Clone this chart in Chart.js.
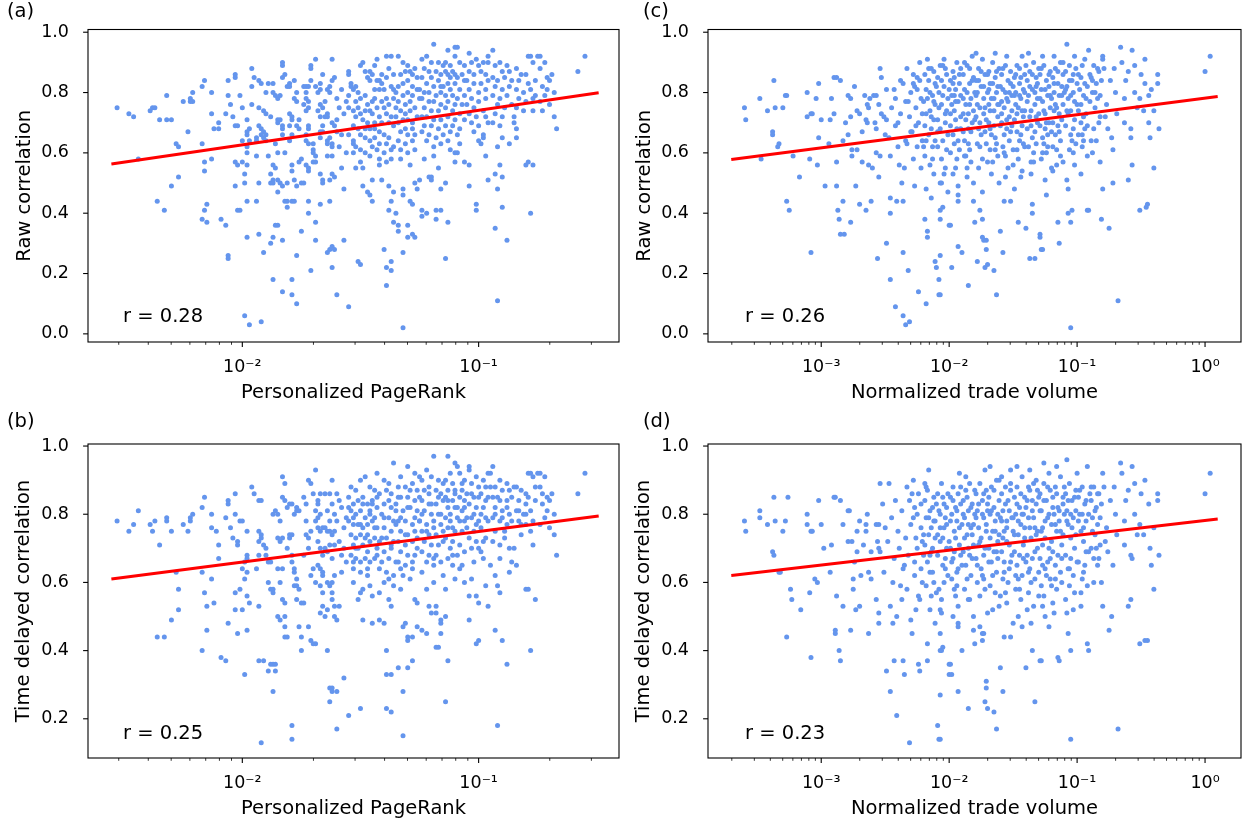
<!DOCTYPE html>
<html>
<head>
<meta charset="utf-8">
<script src="https://cdn.jsdelivr.net/npm/chart.js@4.4.1/dist/chart.umd.min.js"></script>
<style>
  html, body { margin: 0; padding: 0; background: #fff; }
  #wrap { position: relative; width: 1248px; height: 824px; }
  .panel { position: absolute; width: 624px; height: 412px; }
</style>
</head>
<body>
<div id="wrap">
  <div class="panel" style="left:0;top:0"><canvas id="chartA" width="624" height="412"></canvas></div>
  <div class="panel" style="left:624px;top:0"><canvas id="chartC" width="624" height="412"></canvas></div>
  <div class="panel" style="left:0;top:412px"><canvas id="chartB" width="624" height="412"></canvas></div>
  <div class="panel" style="left:624px;top:412px"><canvas id="chartD" width="624" height="412"></canvas></div>
</div>
<script>
// each point: [log10(x), correlation]
const pagerankRaw = [
  [-2.53,.75],[-2.48,.73],[-2.46,.72],[-2.44,.58],[-2.39,.74],[-2.38,.75],[-2.37,.75],[-2.36,.44],[-2.35,.71],
  [-2.33,.41],[-2.32,.79],[-2.32,.71],[-2.30,.71],[-2.30,.49],[-2.28,.63],[-2.27,.62],[-2.27,.52],
  [-2.25,.77],[-2.23,.67],[-2.22,.78],[-2.21,.77],[-2.22,.77],[-2.21,.80],[-2.17,.63],[-2.17,.82],[-2.17,.38],
  [-2.16,.84],[-2.16,.57],[-2.16,.54],[-2.16,.41],[-2.15,.43],[-2.15,.37],[-2.13,.73],[-2.13,.80],[-2.13,.58],[-2.12,.68],[-2.10,.70],[-2.10,.68],[-2.09,.38],[-2.07,.36],[-2.07,.73],
  [-2.06,.79],[-2.06,.84],[-2.06,.26],[-2.06,.25],[-2.05,.76],[-2.04,.72],[-2.03,.85],[-2.03,.86],[-2.03,.57],[-2.02,.56],[-2.03,.49],[-2.03,.69],[-2.02,.69],[-2.02,.41],[-2.01,.41],[-2.01,.79],[-2.00,.75],[-2.00,.64],[-1.98,.66],[-2.00,.57],[-1.98,.56],[-1.98,.60],[-1.99,.50],[-1.99,.53],[-1.99,.06],[-1.97,.03],[-1.98,.32],[-1.98,.62],[-1.97,.64],[-1.97,.68],[-1.98,.71],[-1.98,.67],[-1.98,.44],
  [-1.92,.04],[-1.93,.33],[-1.94,.44],[-1.96,.76],[-1.96,.88],[-1.95,.85],[-1.93,.84],[-1.96,.82],[-1.94,.65],[-1.94,.64],[-1.94,.59],[-1.93,.50],[-1.93,.75],[-1.93,.69],[-1.91,.27],[-1.91,.74],[-1.90,.73],[-1.92,.83],[-1.90,.80],[-1.92,.68],[-1.91,.67],[-1.90,.66],[-1.91,.65],[-1.90,.64],[-1.92,.66],[-1.89,.59],[-1.88,.72],[-1.89,.83],[-1.87,.83],[-1.88,.53],[-1.88,.50],[-1.87,.51],[-1.87,.50],[-1.87,.56],[-1.88,.30],[-1.87,.32],[-1.87,.18],[-1.87,.80],
  [-1.86,.55],[-1.86,.36],[-1.85,.36],[-1.86,.79],[-1.85,.78],[-1.84,.79],[-1.85,.70],[-1.85,.71],[-1.84,.71],[-1.86,.63],[-1.85,.60],[-1.85,.47],[-1.85,.51],[-1.84,.50],[-1.83,.90],[-1.83,.89],[-1.83,.14],[-1.83,.85],[-1.82,.86],[-1.83,.68],[-1.83,.69],[-1.83,.66],[-1.83,.49],[-1.81,.50],[-1.83,.31],[-1.82,.60],[-1.81,.44],[-1.82,.44],[-1.81,.42],[-1.81,.82],[-1.80,.82],[-1.80,.83],[-1.78,.84],[-1.80,.73],[-1.79,.71],[-1.79,.72],[-1.80,.69],[-1.80,.64],[-1.79,.66],[-1.79,.56],[-1.78,.51],[-1.79,.54],[-1.79,.44],[-1.78,.44],[-1.79,.18],[-1.79,.13],[-1.77,.10],[-1.78,.78],[-1.77,.80],
  [-1.77,.77],[-1.77,.69],[-1.76,.71],[-1.76,.68],[-1.77,.49],[-1.75,.50],[-1.74,.50],[-1.76,.57],[-1.75,.58],[-1.77,.26],[-1.75,.34],[-1.74,.82],[-1.73,.80],[-1.73,.82],[-1.72,.82],[-1.74,.76],[-1.73,.78],[-1.72,.77],[-1.73,.64],[-1.72,.63],[-1.73,.66],[-1.73,.74],[-1.72,.75],[-1.72,.54],[-1.72,.55],[-1.73,.56],[-1.72,.69],[-1.72,.68],[-1.72,.44],[-1.72,.40],[-1.71,.89],[-1.71,.88],[-1.71,.84],[-1.71,.21],[-1.70,.63],[-1.70,.61],[-1.70,.60],[-1.69,.59],[-1.70,.57],[-1.69,.57],[-1.69,.37],[-1.69,.31],[-1.69,.91],[-1.69,.82],[-1.68,.80],[-1.67,.81],[-1.67,.83],[-1.66,.86],[-1.68,.74],[-1.67,.72],[-1.67,.76],[-1.66,.75],[-1.67,.67],[-1.67,.65],[-1.66,.67],[-1.66,.69],[-1.67,.53],[-1.66,.51],[-1.66,.50],[-1.67,.43],
  [-1.65,.77],[-1.65,.72],[-1.64,.73],[-1.64,.72],[-1.64,.81],[-1.63,.82],[-1.63,.80],[-1.62,.84],[-1.62,.91],[-1.61,.85],[-1.64,.63],[-1.64,.64],[-1.63,.65],[-1.62,.62],[-1.62,.63],[-1.64,.27],[-1.63,.28],[-1.62,.22],[-1.62,.29],[-1.61,.28],[-1.64,.59],[-1.62,.59],[-1.62,.53],[-1.61,.52],[-1.63,.51],[-1.63,.44],[-1.60,.13],[-1.62,.70],[-1.61,.69],[-1.60,.67],[-1.60,.71],[-1.60,.78],[-1.59,.75],[-1.58,.81],[-1.59,.62],[-1.58,.66],[-1.57,.31],[-1.58,.55],[-1.57,.48],[-1.55,.09],[-1.56,.77],[-1.56,.60],[-1.57,.73],
  [-1.55,.87],[-1.55,.86],[-1.54,.83],[-1.54,.82],[-1.53,.81],[-1.52,.82],[-1.51,.80],[-1.50,.89],[-1.49,.90],[-1.48,.87],[-1.47,.85],[-1.46,.84],[-1.46,.87],[-1.55,.79],[-1.52,.77],[-1.50,.78],[-1.48,.79],[-1.47,.76],[-1.45,.77],[-1.55,.75],[-1.53,.74],[-1.51,.75],[-1.50,.73],[-1.48,.74],[-1.46,.74],[-1.52,.72],[-1.49,.71],[-1.47,.70],[-1.53,.69],[-1.51,.68],[-1.48,.68],[-1.46,.68],[-1.55,.66],[-1.53,.64],[-1.50,.66],[-1.48,.65],[-1.46,.64],[-1.53,.63],[-1.50,.61],[-1.48,.60],[-1.46,.59],[-1.52,.55],[-1.45,.51],[-1.49,.49],[-1.47,.47],[-1.53,.60],[-1.52,.62],[-1.50,.57],[-1.49,.55],[-1.51,.24],[-1.50,.23],[-1.45,.62],[-1.45,.44],[-1.46,.46],
  [-1.43,.91],[-1.44,.89],[-1.45,.86],[-1.43,.84],[-1.42,.84],[-1.41,.86],[-1.39,.92],[-1.37,.92],[-1.38,.88],[-1.36,.86],[-1.39,.85],[-1.41,.83],[-1.44,.81],[-1.42,.81],[-1.40,.81],[-1.37,.82],[-1.36,.81],[-1.44,.78],[-1.41,.77],[-1.39,.78],[-1.36,.78],[-1.43,.75],[-1.40,.75],[-1.38,.76],[-1.35,.75],[-1.45,.73],[-1.42,.72],[-1.39,.73],[-1.37,.72],[-1.44,.70],[-1.41,.70],[-1.38,.70],[-1.36,.69],[-1.44,.68],[-1.42,.67],[-1.40,.66],[-1.38,.65],[-1.44,.65],[-1.42,.63],[-1.39,.63],[-1.36,.62],[-1.43,.61],[-1.40,.60],[-1.37,.61],[-1.42,.58],[-1.39,.57],[-1.37,.58],[-1.42,.56],[-1.41,.51],[-1.40,.28],[-1.39,.16],[-1.39,.22],[-1.37,.21],[-1.37,.24],[-1.38,.49],[-1.37,.44],[-1.36,.47],[-1.38,.41],[-1.35,.40],[-1.36,.37],
  [-1.34,.92],[-1.32,.90],[-1.30,.89],[-1.31,.87],[-1.33,.86],[-1.29,.87],[-1.28,.86],[-1.26,.85],[-1.27,.88],[-1.30,.84],[-1.32,.83],[-1.34,.82],[-1.28,.82],[-1.26,.81],[-1.35,.80],[-1.32,.79],[-1.30,.80],[-1.28,.79],[-1.25,.78],[-1.34,.77],[-1.31,.76],[-1.29,.77],[-1.27,.75],[-1.33,.74],[-1.31,.73],[-1.29,.74],[-1.26,.72],[-1.35,.72],[-1.32,.71],[-1.30,.71],[-1.28,.70],[-1.34,.70],[-1.31,.68],[-1.28,.68],[-1.33,.67],[-1.30,.66],[-1.27,.66],[-1.34,.64],[-1.31,.63],[-1.28,.64],[-1.33,.61],[-1.30,.60],[-1.27,.61],[-1.34,.36],[-1.34,.34],[-1.32,.27],[-1.32,.46],[-1.32,.48],[-1.30,.36],[-1.30,.32],[-1.28,.33],[-1.27,.32],[-1.28,.43],[-1.29,.44],[-1.32,.02],[-1.27,.50],[-1.26,.48],[-1.29,.56],[-1.33,.58],
  [-1.19,.96],[-1.22,.92],[-1.24,.91],[-1.20,.90],[-1.17,.90],[-1.15,.89],[-1.23,.88],[-1.21,.87],[-1.18,.87],[-1.16,.86],[-1.24,.85],[-1.20,.85],[-1.17,.84],[-1.22,.83],[-1.19,.82],[-1.16,.82],[-1.25,.81],[-1.23,.80],[-1.21,.80],[-1.18,.79],[-1.16,.80],[-1.24,.78],[-1.21,.77],[-1.19,.77],[-1.16,.76],[-1.23,.75],[-1.20,.74],[-1.17,.74],[-1.24,.72],[-1.22,.72],[-1.19,.71],[-1.16,.71],[-1.23,.69],[-1.20,.69],[-1.17,.68],[-1.24,.67],[-1.21,.66],[-1.18,.65],[-1.15,.66],[-1.22,.64],[-1.19,.62],[-1.16,.63],[-1.24,.39],[-1.24,.41],[-1.22,.40],[-1.25,.51],[-1.21,.52],[-1.20,.52],[-1.20,.51],[-1.18,.41],[-1.16,.41],[-1.18,.38],[-1.16,.48],[-1.17,.55],[-1.23,.58],[-1.19,.59],
  [-1.13,.94],[-1.10,.95],[-1.09,.95],[-1.10,.92],[-1.14,.90],[-1.12,.89],[-1.08,.90],[-1.06,.89],[-1.14,.87],[-1.11,.87],[-1.13,.86],[-1.10,.86],[-1.12,.85],[-1.09,.85],[-1.07,.86],[-1.13,.83],[-1.10,.83],[-1.06,.84],[-1.15,.82],[-1.12,.81],[-1.08,.81],[-1.14,.79],[-1.11,.79],[-1.09,.78],[-1.06,.79],[-1.13,.77],[-1.10,.76],[-1.07,.76],[-1.14,.75],[-1.11,.74],[-1.08,.73],[-1.13,.72],[-1.10,.71],[-1.06,.71],[-1.14,.69],[-1.11,.69],[-1.08,.68],[-1.12,.67],[-1.09,.66],[-1.13,.64],[-1.14,.50],[-1.13,.37],[-1.14,.25],[-1.12,.61],[-1.10,.57],[-1.10,.60],[-1.09,.60],[-1.08,.63],[-1.06,.57],
  [-1.04,.93],[-1.01,.91],[-0.98,.90],[-1.03,.90],[-1.00,.89],[-0.96,.92],[-0.96,.90],[-1.04,.87],[-1.02,.86],[-0.99,.87],[-0.97,.86],[-1.05,.84],[-1.02,.83],[-0.99,.83],[-0.96,.84],[-1.04,.81],[-1.00,.80],[-0.97,.81],[-1.03,.78],[-1.00,.77],[-0.97,.78],[-1.05,.76],[-1.02,.75],[-0.98,.74],[-1.04,.73],[-1.01,.72],[-0.97,.72],[-1.03,.70],[-1.00,.69],[-0.96,.70],[-1.02,.67],[-0.98,.66],[-1.04,.49],[-1.04,.56],[-1.01,.41],[-1.01,.43],[-1.00,.64],[-0.99,.63],[-0.97,.59],[-0.98,.65],[-0.96,.51],
  [-0.94,.94],[-0.91,.90],[-0.88,.89],[-0.93,.89],[-0.90,.87],[-0.87,.87],[-0.94,.85],[-0.92,.84],[-0.89,.85],[-0.86,.84],[-0.93,.82],[-0.90,.81],[-0.87,.82],[-0.94,.79],[-0.91,.78],[-0.88,.79],[-0.92,.76],[-0.89,.75],[-0.86,.76],[-0.93,.73],[-0.90,.72],[-0.94,.70],[-0.91,.69],[-0.93,.35],[-0.93,.53],[-0.92,.11],[-0.92,.48],[-0.91,.56],[-0.90,.52],[-0.90,.42],[-0.90,.65],[-0.92,.62],[-0.88,.31],[-0.87,.63],[-0.85,.72],[-0.85,.70],
  [-0.84,.88],[-0.82,.86],[-0.80,.86],[-0.79,.92],[-0.78,.92],[-0.77,.90],[-0.75,.92],[-0.83,.84],[-0.79,.83],[-0.76,.84],[-0.84,.81],[-0.81,.80],[-0.78,.81],[-0.83,.78],[-0.80,.77],[-0.77,.78],[-0.84,.75],[-0.81,.74],[-0.77,.74],[-0.84,.65],[-0.84,.68],[-0.80,.56],[-0.79,.57],[-0.78,.40],[-0.77,.56],[-0.76,.79],
  [-0.74,.92],[-0.72,.90],[-0.74,.88],[-0.71,.85],[-0.73,.82],[-0.70,.84],[-0.69,.86],[-0.72,.79],[-0.68,.80],[-0.74,.77],[-0.70,.76],[-0.73,.74],[-0.68,.72],[-0.67,.68],[-0.71,.81],
  [-0.55,.92],[-0.58,.87]
];

const pagerankDelayed = [
  [-2.53,.78],[-2.48,.75],[-2.46,.77],[-2.44,.81],[-2.39,.77],[-2.38,.75],[-2.37,.78],[-2.36,.44],[-2.35,.71],
  [-2.33,.44],[-2.32,.79],[-2.32,.78],[-2.30,.75],[-2.30,.49],[-2.28,.63],[-2.27,.52],[-2.27,.58],
  [-2.25,.77],[-2.22,.79],[-2.22,.78],[-2.21,.80],[-2.23,.75],[-2.17,.63],[-2.17,.82],[-2.17,.40],
  [-2.16,.85],[-2.16,.57],[-2.15,.53],[-2.15,.46],[-2.13,.80],[-2.13,.61],[-2.13,.76],[-2.12,.54],[-2.11,.75],[-2.10,.71],[-2.10,.67],[-2.09,.38],[-2.07,.37],[-2.07,.79],
  [-2.06,.84],[-2.06,.83],[-2.05,.76],[-2.06,.48],[-2.03,.80],[-2.03,.86],[-2.04,.73],[-2.02,.72],[-2.02,.71],[-2.03,.57],[-2.01,.58],[-2.03,.52],[-2.00,.52],[-2.02,.45],[-2.01,.78],[-2.00,.78],[-2.00,.64],[-1.99,.66],[-1.98,.68],[-1.98,.67],[-1.98,.63],[-1.99,.33],[-1.98,.46],[-1.98,.56],[-1.97,.54],[-1.99,.61],[-1.98,.75],
  [-1.96,.88],[-1.95,.86],[-1.93,.84],[-1.92,.84],[-1.93,.75],[-1.92,.74],[-1.93,.72],[-1.92,.73],[-1.93,.37],[-1.91,.37],[-1.93,.53],[-1.92,.13],[-1.93,.68],[-1.91,.71],[-1.90,.70],[-1.89,.66],[-1.88,.66],[-1.89,.34],[-1.88,.36],[-1.87,.28],[-1.87,.36],[-1.89,.60],[-1.88,.58],[-1.87,.58],[-1.87,.57],[-1.87,.80],[-1.90,.68],[-1.94,.64],
  [-1.86,.36],[-1.86,.34],[-1.86,.81],[-1.85,.80],[-1.85,.73],[-1.84,.72],[-1.83,.73],[-1.85,.64],[-1.83,.64],[-1.83,.85],[-1.82,.84],[-1.83,.91],[-1.82,.89],[-1.84,.78],[-1.85,.50],[-1.84,.49],[-1.83,.55],[-1.82,.54],[-1.82,.50],[-1.82,.47],[-1.82,.44],[-1.81,.44],[-1.81,.82],[-1.80,.83],[-1.79,.83],[-1.80,.74],[-1.80,.73],[-1.79,.74],[-1.79,.68],[-1.79,.66],[-1.78,.64],[-1.78,.63],[-1.77,.61],[-1.78,.80],[-1.77,.81],[-1.77,.82],[-1.76,.81],[-1.78,.59],[-1.77,.59],[-1.79,.18],[-1.79,.14],[-1.77,.55],[-1.81,.70],[-1.84,.60],
  [-1.76,.47],[-1.75,.44],[-1.75,.40],[-1.74,.85],[-1.73,.83],[-1.76,.58],[-1.75,.54],[-1.74,.54],[-1.73,.74],[-1.72,.73],[-1.72,.70],[-1.71,.75],[-1.72,.47],[-1.71,.43],[-1.70,.42],[-1.69,.42],[-1.72,.90],[-1.71,.89],[-1.69,.93],[-1.70,.86],[-1.68,.84],[-1.67,.86],[-1.69,.81],[-1.68,.83],[-1.67,.80],[-1.69,.78],[-1.68,.76],[-1.67,.75],[-1.66,.76],[-1.68,.72],[-1.67,.70],[-1.66,.68],[-1.68,.65],[-1.67,.64],[-1.66,.62],[-1.69,.60],[-1.67,.59],[-1.66,.57],[-1.67,.51],[-1.66,.53],[-1.70,.64],[-1.74,.68],[-1.71,.62],[-1.73,.78],
  [-1.65,.76],[-1.64,.75],[-1.63,.75],[-1.62,.74],[-1.61,.75],[-1.65,.70],[-1.64,.69],[-1.63,.71],[-1.62,.67],[-1.64,.60],[-1.63,.59],[-1.62,.60],[-1.61,.62],[-1.62,.55],[-1.61,.53],[-1.65,.50],[-1.64,.52],[-1.61,.50],[-1.60,.49],[-1.64,.40],[-1.63,.29],[-1.62,.28],[-1.63,.25],[-1.60,.17],[-1.60,.28],[-1.62,.29],[-1.57,.32],[-1.59,.53],[-1.62,.57],[-1.55,.21],[-1.64,.81],[-1.62,.83],[-1.60,.86],[-1.61,.80],[-1.58,.82],[-1.56,.79],[-1.59,.72],[-1.57,.70],[-1.56,.66],[-1.58,.63],[-1.60,.78],[-1.63,.86],[-1.62,.90],
  [-1.54,.88],[-1.52,.87],[-1.50,.90],[-1.48,.91],[-1.46,.88],[-1.55,.85],[-1.53,.83],[-1.51,.84],[-1.49,.85],[-1.47,.83],[-1.45,.84],[-1.54,.81],[-1.52,.80],[-1.50,.81],[-1.48,.79],[-1.46,.80],[-1.55,.78],[-1.53,.77],[-1.51,.77],[-1.49,.76],[-1.47,.77],[-1.45,.78],[-1.54,.74],[-1.52,.73],[-1.50,.74],[-1.48,.73],[-1.46,.72],[-1.53,.71],[-1.51,.70],[-1.49,.71],[-1.47,.69],[-1.54,.68],[-1.52,.67],[-1.50,.66],[-1.48,.67],[-1.46,.66],[-1.53,.64],[-1.50,.63],[-1.47,.62],[-1.51,.55],[-1.50,.57],[-1.49,.58],[-1.49,.49],[-1.50,.23],[-1.45,.56],[-1.45,.48],[-1.53,.60],[-1.46,.59],
  [-1.43,.92],[-1.40,.90],[-1.36,.95],[-1.38,.89],[-1.44,.87],[-1.42,.86],[-1.39,.87],[-1.37,.86],[-1.45,.83],[-1.43,.82],[-1.40,.83],[-1.37,.82],[-1.35,.83],[-1.44,.79],[-1.41,.80],[-1.38,.79],[-1.36,.78],[-1.43,.76],[-1.40,.76],[-1.37,.75],[-1.44,.73],[-1.42,.72],[-1.39,.73],[-1.36,.72],[-1.43,.70],[-1.40,.69],[-1.37,.70],[-1.44,.67],[-1.41,.66],[-1.38,.67],[-1.35,.66],[-1.42,.64],[-1.39,.63],[-1.36,.62],[-1.42,.57],[-1.42,.49],[-1.40,.48],[-1.39,.40],[-1.39,.33],[-1.37,.33],[-1.37,.22],[-1.39,.23],[-1.38,.55],[-1.37,.53],[-1.40,.60],[-1.36,.59],
  [-1.30,.94],[-1.33,.91],[-1.27,.92],[-1.25,.91],[-1.34,.88],[-1.31,.88],[-1.28,.89],[-1.26,.87],[-1.33,.85],[-1.30,.85],[-1.27,.84],[-1.35,.81],[-1.32,.81],[-1.29,.82],[-1.26,.81],[-1.34,.78],[-1.31,.78],[-1.28,.77],[-1.25,.78],[-1.33,.75],[-1.30,.74],[-1.27,.75],[-1.34,.72],[-1.31,.71],[-1.28,.72],[-1.26,.70],[-1.33,.69],[-1.30,.68],[-1.27,.68],[-1.34,.66],[-1.31,.65],[-1.28,.64],[-1.32,.62],[-1.29,.61],[-1.34,.35],[-1.32,.28],[-1.32,.15],[-1.32,.47],[-1.30,.44],[-1.30,.43],[-1.31,.48],[-1.28,.44],[-1.28,.37],[-1.30,.35],[-1.26,.47],[-1.27,.55],[-1.26,.54],[-1.33,.58],
  [-1.19,.97],[-1.22,.93],[-1.24,.90],[-1.20,.91],[-1.17,.90],[-1.15,.89],[-1.23,.87],[-1.21,.86],[-1.18,.87],[-1.16,.86],[-1.24,.84],[-1.21,.83],[-1.18,.83],[-1.15,.84],[-1.23,.81],[-1.20,.80],[-1.17,.80],[-1.25,.78],[-1.22,.77],[-1.19,.78],[-1.16,.77],[-1.24,.75],[-1.21,.74],[-1.18,.74],[-1.15,.75],[-1.23,.72],[-1.20,.71],[-1.17,.71],[-1.24,.69],[-1.21,.68],[-1.18,.68],[-1.22,.66],[-1.19,.65],[-1.16,.66],[-1.22,.45],[-1.24,.46],[-1.21,.53],[-1.20,.51],[-1.18,.53],[-1.18,.51],[-1.16,.48],[-1.16,.49],[-1.16,.45],[-1.18,.41],[-1.17,.41],[-1.22,.58],[-1.19,.60],
  [-1.13,.97],[-1.10,.95],[-1.09,.94],[-1.12,.92],[-1.08,.92],[-1.14,.90],[-1.11,.89],[-1.06,.90],[-1.13,.87],[-1.10,.87],[-1.07,.87],[-1.14,.85],[-1.11,.84],[-1.08,.85],[-1.06,.84],[-1.13,.82],[-1.10,.82],[-1.07,.81],[-1.14,.79],[-1.12,.78],[-1.09,.79],[-1.06,.78],[-1.13,.76],[-1.10,.75],[-1.07,.75],[-1.14,.73],[-1.11,.72],[-1.08,.71],[-1.12,.70],[-1.09,.68],[-1.06,.69],[-1.13,.67],[-1.14,.50],[-1.13,.37],[-1.14,.25],[-1.14,.58],[-1.10,.61],[-1.06,.60],[-1.08,.64],[-1.11,.65],
  [-1.04,.94],[-1.04,.93],[-1.01,.91],[-0.98,.90],[-0.96,.92],[-1.03,.89],[-1.00,.88],[-0.97,.88],[-1.05,.86],[-1.02,.85],[-0.99,.86],[-0.96,.85],[-1.04,.83],[-1.01,.82],[-0.98,.82],[-1.03,.79],[-1.00,.78],[-0.97,.79],[-1.05,.76],[-1.02,.75],[-0.99,.76],[-1.04,.73],[-1.01,.72],[-0.97,.73],[-1.03,.70],[-1.00,.70],[-1.04,.56],[-1.01,.56],[-1.00,.54],[-1.04,.49],[-1.01,.42],[-1.00,.43],[-0.96,.53],[-0.97,.59],[-0.98,.67],[-1.02,.66],
  [-0.94,.94],[-0.95,.92],[-0.91,.90],[-0.88,.89],[-0.93,.88],[-0.90,.87],[-0.87,.87],[-0.94,.85],[-0.91,.84],[-0.88,.84],[-0.86,.85],[-0.93,.82],[-0.90,.81],[-0.87,.80],[-0.94,.79],[-0.91,.78],[-0.88,.77],[-0.93,.75],[-0.89,.75],[-0.94,.72],[-0.91,.71],[-0.93,.46],[-0.92,.18],[-0.91,.57],[-0.92,.59],[-0.90,.43],[-0.88,.36],[-0.93,.62],[-0.87,.63],[-0.85,.70],[-0.86,.66],
  [-0.84,.88],[-0.82,.87],[-0.80,.86],[-0.79,.92],[-0.78,.92],[-0.77,.91],[-0.75,.92],[-0.83,.84],[-0.80,.83],[-0.76,.84],[-0.84,.81],[-0.81,.80],[-0.78,.81],[-0.83,.78],[-0.80,.77],[-0.77,.78],[-0.82,.74],[-0.78,.75],[-0.80,.58],[-0.79,.58],[-0.76,.55],[-0.78,.40],[-0.84,.65],[-0.77,.71],
  [-0.74,.92],[-0.72,.91],[-0.74,.88],[-0.71,.85],[-0.73,.83],[-0.70,.84],[-0.69,.86],[-0.72,.79],[-0.68,.80],[-0.74,.77],[-0.70,.76],[-0.68,.74],[-0.67,.68],[-0.71,.81],
  [-0.55,.92],[-0.58,.86],
  [-1.68,.79],[-1.65,.86],[-1.63,.78],[-1.61,.71],[-1.59,.84],[-1.57,.76],[-1.55,.82],[-1.53,.79],[-1.52,.70],[-1.50,.77],[-1.49,.83],[-1.47,.74],[-1.46,.81],[-1.44,.76],[-1.43,.85],[-1.41,.73],[-1.40,.79],[-1.38,.84],[-1.37,.71],[-1.35,.77],[-1.34,.85],[-1.33,.79],[-1.31,.74],[-1.30,.82],[-1.29,.87],[-1.27,.79],[-1.26,.73],[-1.25,.85],[-1.24,.80],[-1.22,.75],[-1.21,.88],[-1.20,.83],[-1.19,.76],[-1.17,.85],[-1.16,.80],[-1.15,.72],[-1.13,.84],[-1.12,.80],[-1.11,.76],[-1.10,.86],[-1.09,.82],[-1.08,.78],[-1.07,.89],[-1.06,.82],[-1.05,.79],[-1.03,.86],[-1.02,.80],[-1.01,.77],[-1.00,.85],[-0.99,.80],[-0.98,.72],[-0.97,.84],[-0.96,.78],[-0.95,.88],[-0.93,.80],[-0.92,.85],[-0.90,.79],[-0.89,.73],[-0.88,.82],[-0.86,.78],[-0.85,.88],[-0.83,.81],[-0.82,.77],[-0.80,.80],[-0.79,.85],[-0.76,.88],[-0.73,.86],
  [-1.66,.63],[-1.58,.68],[-1.53,.66],[-1.47,.64],[-1.43,.68],[-1.38,.61],[-1.33,.64],[-1.28,.66],[-1.24,.63],[-1.19,.67],[-1.15,.62],[-1.11,.68],[-1.07,.65],[-1.03,.61],[-0.99,.69],[-0.95,.65],[-0.91,.67],[-0.87,.70]
];

const volumeRaw = [
  [-3.60,.75],[-3.59,.71],[-3.48,.78],[-3.47,.58],[-3.42,.74],[-3.38,.67],[-3.38,.66],[-3.37,.84],[-3.36,.75],[-3.34,.62],[-3.33,.63],[-3.30,.75],[-3.28,.79],[-3.27,.79],[-3.27,.44],[-3.25,.41],[-3.22,.59],[-3.17,.52],[-3.11,.80],[-3.11,.72],[-3.08,.73],[-3.07,.73],[-3.09,.58],[-3.08,.27],[-3.04,.78],[-3.03,.56],[-3.02,.83],[-3.02,.65],[-3.00,.71],
  [-2.93,.71],[-2.94,.63],[-2.90,.85],[-2.88,.85],[-2.85,.84],[-2.90,.73],[-2.88,.57],[-2.88,.49],[-2.87,.41],[-2.86,.38],[-2.85,.33],[-2.82,.33],[-2.83,.44],[-2.83,.64],[-2.79,.79],[-2.77,.78],[-2.77,.72],[-2.79,.66],[-2.77,.37],[-2.76,.61],[-2.76,.59],[-2.73,.49],[-2.72,.74],[-2.72,.61],[-2.70,.43],[-2.68,.57],[-2.70,.73],[-2.66,.79],[-2.65,.71],[-2.64,.70],[-2.65,.41],[-2.61,.44],[-2.64,.76],[-2.63,.75],[-2.63,.56],[-2.60,.55],[-2.62,.78],[-2.97,.49],[-2.92,.78],[-2.81,.70],[-2.74,.82],[-2.68,.67],
  [-2.59,.79],[-2.57,.79],[-2.58,.70],[-2.57,.68],[-2.57,.60],[-2.54,.59],[-2.54,.88],[-2.53,.85],[-2.53,.73],[-2.51,.72],[-2.55,.52],[-2.56,.25],[-2.49,.30],[-2.49,.81],[-2.49,.71],[-2.47,.65],[-2.46,.59],[-2.46,.45],[-2.46,.40],[-2.46,.18],[-2.43,.81],[-2.42,.78],[-2.42,.69],[-2.40,.70],[-2.41,.44],[-2.39,.56],[-2.37,.50],[-2.36,.44],[-2.42,.09],[-2.38,.84],[-2.36,.83],[-2.36,.06],[-2.34,.03],[-2.31,.04],[-2.36,.27],[-2.32,.21],[-2.34,.64],[-2.33,.63],[-2.33,.88],[-2.34,.77],[-2.32,.77],[-2.30,.67],[-2.29,.67],[-2.28,.86],[-2.27,.82],[-2.25,.81],[-2.24,.14],[-2.23,.90],[-2.21,.64],[-2.20,.62],[-2.55,.76],[-2.50,.66],[-2.45,.75],[-2.40,.62],[-2.38,.73],[-2.35,.55],[-2.31,.72],[-2.28,.58],[-2.26,.75],[-2.24,.70],[-2.22,.78],[-2.22,.55],[-2.27,.49],[-2.30,.80],[-2.25,.85],[-2.21,.73],
  [-2.19,.86],[-2.18,.81],[-2.17,.78],[-2.16,.84],[-2.15,.74],[-2.14,.88],[-2.13,.79],[-2.12,.71],[-2.11,.83],[-2.11,.76],[-2.19,.69],[-2.16,.66],[-2.13,.62],[-2.18,.73],[-2.15,.80],[-2.12,.87],[-2.17,.91],[-2.14,.68],[-2.11,.64],[-2.19,.59],[-2.15,.56],[-2.12,.53],[-2.18,.48],[-2.14,.45],[-2.19,.38],[-2.17,.34],[-2.17,.32],[-2.18,.10],[-2.11,.24],[-2.10,.22],
  [-2.09,.85],[-2.08,.80],[-2.07,.89],[-2.05,.89],[-2.06,.76],[-2.04,.82],[-2.03,.73],[-2.02,.86],[-2.01,.78],[-2.09,.71],[-2.07,.68],[-2.05,.64],[-2.03,.70],[-2.01,.66],[-2.08,.75],[-2.04,.91],[-2.02,.61],[-2.06,.58],[-2.09,.62],[-2.03,.55],[-2.07,.50],[-2.06,.50],[-2.01,.47],[-2.07,.41],[-2.07,.38],[-2.05,.42],[-2.00,.36],[-2.07,.26],[-2.08,.18],[-2.08,.13],[-2.07,.13],
  [-1.99,.84],[-1.98,.79],[-1.97,.87],[-1.96,.74],[-1.95,.81],[-1.94,.90],[-1.93,.77],[-1.92,.83],[-1.91,.72],[-1.99,.69],[-1.97,.66],[-1.95,.71],[-1.93,.64],[-1.91,.68],[-1.98,.76],[-1.96,.85],[-1.92,.61],[-1.94,.58],[-1.99,.60],[-1.97,.53],[-1.93,.49],[-1.93,.46],[-1.93,.44],[-1.95,.55],[-1.99,.36],[-1.98,.22],[-1.93,.29],[-1.90,.27],[-1.96,.79],[-1.91,.88],
  [-1.89,.86],[-1.88,.81],[-1.87,.76],[-1.86,.89],[-1.85,.73],[-1.84,.83],[-1.83,.78],[-1.82,.70],[-1.81,.85],[-1.89,.67],[-1.87,.71],[-1.85,.63],[-1.83,.67],[-1.81,.74],[-1.88,.59],[-1.86,.55],[-1.84,.61],[-1.82,.92],[-1.89,.78],[-1.84,.88],[-1.86,.52],[-1.81,.44],[-1.81,.50],[-1.85,.16],[-1.88,.64],[-1.83,.57],[-1.80,.80],[-1.80,.37],
  [-1.79,.84],[-1.78,.80],[-1.77,.88],[-1.76,.75],[-1.75,.82],[-1.74,.91],[-1.73,.78],[-1.72,.86],[-1.71,.71],[-1.79,.72],[-1.77,.68],[-1.75,.66],[-1.73,.73],[-1.71,.63],[-1.78,.76],[-1.76,.62],[-1.74,.58],[-1.72,.67],[-1.78,.24],[-1.76,.41],[-1.74,.38],[-1.74,.47],[-1.74,.32],[-1.73,.31],[-1.71,.31],[-1.71,.28],[-1.72,.22],[-1.70,.23],[-1.77,.55],[-1.70,.80],[-1.79,.93],
  [-1.69,.87],[-1.68,.83],[-1.67,.78],[-1.66,.90],[-1.65,.74],[-1.64,.85],[-1.63,.80],[-1.62,.72],[-1.61,.88],[-1.69,.70],[-1.67,.66],[-1.65,.69],[-1.63,.63],[-1.61,.76],[-1.68,.61],[-1.66,.57],[-1.64,.65],[-1.62,.82],[-1.69,.76],[-1.60,.69],[-1.65,.21],[-1.63,.13],[-1.61,.50],[-1.60,.34],[-1.67,.53],[-1.62,.59],[-1.64,.93],[-1.68,.74],
  [-1.59,.86],[-1.58,.81],[-1.57,.75],[-1.56,.89],[-1.55,.78],[-1.54,.84],[-1.53,.72],[-1.52,.87],[-1.51,.79],[-1.59,.70],[-1.57,.66],[-1.55,.68],[-1.53,.64],[-1.51,.74],[-1.58,.62],[-1.56,.59],[-1.54,.55],[-1.52,.67],[-1.58,.27],[-1.57,.44],[-1.52,.44],[-1.55,.92],[-1.50,.82],[-1.59,.77],[-1.53,.80],[-1.50,.61],[-1.56,.52],
  [-1.49,.85],[-1.48,.80],[-1.47,.89],[-1.46,.75],[-1.45,.83],[-1.44,.78],[-1.43,.92],[-1.42,.72],[-1.41,.86],[-1.49,.71],[-1.47,.67],[-1.45,.64],[-1.43,.69],[-1.41,.62],[-1.48,.76],[-1.46,.58],[-1.44,.66],[-1.42,.81],[-1.49,.48],[-1.46,.37],[-1.44,.52],[-1.43,.54],[-1.40,.35],[-1.47,.61],[-1.41,.74],[-1.45,.88],
  [-1.39,.84],[-1.38,.79],[-1.37,.87],[-1.36,.74],[-1.35,.81],[-1.34,.90],[-1.33,.76],[-1.32,.85],[-1.31,.70],[-1.39,.68],[-1.37,.72],[-1.35,.65],[-1.33,.67],[-1.31,.78],[-1.38,.62],[-1.36,.57],[-1.34,.60],[-1.32,.82],[-1.37,.25],[-1.35,.43],[-1.35,.40],[-1.33,.25],[-1.38,.93],[-1.30,.88],[-1.36,.53],[-1.32,.63],[-1.30,.73],
  [-1.29,.86],[-1.28,.81],[-1.27,.77],[-1.26,.89],[-1.25,.73],[-1.24,.84],[-1.23,.79],[-1.22,.70],[-1.21,.87],[-1.29,.69],[-1.27,.65],[-1.25,.68],[-1.23,.62],[-1.21,.75],[-1.28,.58],[-1.26,.63],[-1.24,.60],[-1.22,.82],[-1.29,.33],[-1.29,.32],[-1.28,.28],[-1.27,.28],[-1.25,.51],[-1.24,.46],[-1.20,.55],[-1.27,.92],[-1.20,.78],[-1.23,.66],
  [-1.19,.85],[-1.18,.80],[-1.17,.88],[-1.16,.75],[-1.15,.83],[-1.14,.79],[-1.13,.90],[-1.12,.71],[-1.11,.86],[-1.19,.54],[-1.19,.70],[-1.17,.66],[-1.15,.69],[-1.13,.64],[-1.11,.76],[-1.18,.74],[-1.16,.56],[-1.16,.61],[-1.14,.67],[-1.12,.82],[-1.15,.37],[-1.14,.30],[-1.18,.92],[-1.10,.80],[-1.13,.59],
  [-1.08,.96],[-1.09,.87],[-1.08,.82],[-1.07,.78],[-1.06,.89],[-1.05,.74],[-1.04,.84],[-1.03,.80],[-1.02,.71],[-1.01,.88],[-1.09,.69],[-1.07,.73],[-1.05,.66],[-1.03,.68],[-1.01,.63],[-1.08,.51],[-1.07,.48],[-1.07,.40],[-1.04,.41],[-1.05,.37],[-1.05,.02],[-1.02,.56],[-1.06,.61],[-1.02,.92],[-1.00,.76],[-1.04,.64],
  [-0.99,.86],[-0.98,.81],[-0.97,.76],[-0.96,.89],[-0.95,.72],[-0.94,.83],[-0.93,.78],[-0.92,.69],[-0.91,.94],[-0.99,.66],[-0.97,.70],[-0.95,.64],[-0.93,.73],[-0.97,.53],[-0.92,.41],[-0.91,.41],[-0.92,.59],[-0.90,.86],[-0.94,.91],[-0.96,.62],
  [-0.89,.85],[-0.88,.80],[-0.87,.89],[-0.86,.75],[-0.85,.83],[-0.84,.78],[-0.83,.87],[-0.82,.72],[-0.81,.84],[-0.80,.92],[-0.80,.91],[-0.88,.60],[-0.82,.57],[-0.80,.48],[-0.81,.38],[-0.87,.68],[-0.85,.64],[-0.83,.70],
  [-0.78,.72],[-0.77,.76],[-0.75,.35],[-0.74,.84],[-0.73,.65],[-0.72,.61],[-0.72,.50],[-0.70,.80],[-0.68,.11],[-0.66,.95],[-0.65,.90],[-0.63,.78],[-0.62,.84],[-0.60,.51],[-0.60,.87],[-0.58,.65],[-0.58,.68],[-0.57,.56],[-0.57,.94],[-0.55,.80],[-0.53,.75],[-0.51,.78],[-0.51,.41],[-0.50,.86],[-0.47,.83],[-0.47,.91],[-0.46,.42],[-0.45,.43],[-0.44,.79],[-0.44,.70],[-0.43,.65],[-0.40,.55],[-0.40,.74],[-0.37,.86],[-0.37,.83],[-0.36,.68],[0.00,.87],[0.04,.92],[-0.76,.68],[-0.69,.73],[-0.63,.70],[-0.55,.89],[-0.48,.74],[-0.42,.81],[-0.79,.88],[-0.71,.88],
  [-2.28,.83],[-2.26,.69],[-2.23,.84],[-2.20,.77],[-2.18,.64],[-2.16,.88],[-2.14,.72],[-2.12,.77],[-2.10,.82],[-2.09,.67],[-2.06,.84],[-2.05,.79],[-2.03,.88],[-2.02,.74],[-2.00,.81],[-1.99,.73],[-1.97,.83],[-1.95,.77],[-1.94,.68],[-1.92,.86],[-1.91,.79],[-1.89,.73],[-1.88,.90],[-1.86,.80],[-1.85,.68],[-1.84,.76],[-1.82,.84],[-1.80,.71],[-1.79,.79],[-1.77,.84],[-1.76,.70],[-1.75,.87],[-1.73,.82],[-1.72,.75],[-1.70,.86],[-1.69,.81],[-1.68,.68],[-1.66,.83],[-1.65,.78],[-1.63,.87],[-1.62,.76],[-1.60,.82],[-1.59,.73],[-1.58,.88],[-1.56,.80],[-1.55,.71],[-1.54,.77],[-1.52,.83],[-1.51,.69],[-1.49,.79],[-1.48,.86],[-1.47,.73],[-1.45,.79],[-1.44,.85],[-1.43,.74],[-1.41,.80],[-1.40,.89],[-1.39,.77],[-1.37,.82],[-1.36,.69],[-1.35,.86],[-1.33,.80],[-1.32,.72],[-1.31,.83],[-1.29,.78],[-1.28,.88],[-1.26,.74],[-1.25,.81],[-1.24,.70],[-1.22,.86],[-1.21,.79],[-1.20,.67],[-1.18,.83],[-1.17,.76],[-1.15,.87],[-1.14,.73],[-1.12,.79],[-1.11,.90],[-1.09,.81],[-1.08,.74],[-1.06,.84],[-1.05,.79],[-1.03,.86],[-1.02,.77],[-1.00,.83],[-0.99,.74],[-0.97,.85],[-0.95,.79],[-0.94,.68],[-0.92,.82],[-0.90,.77],[-0.88,.84],[-0.86,.80],[-0.84,.88],[-0.82,.79],
  [-2.25,.62],[-2.13,.58],[-2.04,.53],[-1.96,.63],[-1.87,.59],[-1.78,.63],[-1.70,.57],[-1.64,.61],[-1.57,.60],[-1.50,.56],[-1.42,.63],[-1.34,.57],[-1.27,.60],[-1.19,.62],[-1.11,.57],[-1.03,.60],[-0.96,.66],[-0.89,.64]
];

const volumeDelayed = [
  [-3.60,.78],[-3.59,.75],[-3.48,.81],[-3.48,.79],[-3.42,.77],[-3.38,.69],[-3.37,.68],[-3.37,.85],[-3.36,.78],[-3.33,.63],[-3.32,.63],[-3.30,.75],[-3.28,.78],[-3.26,.85],[-3.27,.44],[-3.24,.58],[-3.23,.55],[-3.16,.52],[-3.11,.80],[-3.11,.77],[-3.08,.75],[-3.07,.75],[-3.09,.57],[-3.08,.38],[-3.05,.61],[-3.03,.60],[-3.02,.84],[-3.00,.77],[-2.98,.70],
  [-2.93,.63],[-2.92,.71],[-2.90,.85],[-2.89,.85],[-2.85,.84],[-2.89,.45],[-2.89,.46],[-2.88,.56],[-2.86,.40],[-2.85,.37],[-2.83,.53],[-2.79,.81],[-2.78,.81],[-2.79,.72],[-2.76,.72],[-2.77,.46],[-2.75,.61],[-2.75,.58],[-2.73,.52],[-2.72,.75],[-2.72,.69],[-2.70,.53],[-2.69,.62],[-2.70,.78],[-2.65,.77],[-2.65,.75],[-2.63,.45],[-2.61,.69],[-2.61,.61],[-2.63,.63],[-2.64,.80],[-2.83,.77],[-2.74,.66],[-2.67,.71],
  [-2.57,.77],[-2.55,.77],[-2.56,.72],[-2.55,.70],[-2.54,.69],[-2.57,.55],[-2.55,.51],[-2.55,.48],[-2.47,.89],[-2.54,.89],[-2.52,.83],[-2.49,.34],[-2.46,.28],[-2.46,.53],[-2.44,.48],[-2.43,.37],[-2.41,.21],[-2.41,.50],[-2.38,.59],[-2.37,.55],[-2.36,.64],[-2.35,.65],[-2.36,.37],[-2.35,.33],[-2.33,.88],[-2.31,.84],[-2.29,.86],[-2.30,.49],[-2.29,.45],[-2.31,.13],[-2.28,.90],[-2.27,.82],[-2.25,.80],[-2.24,.36],[-2.23,.34],[-2.22,.76],[-2.21,.72],[-2.20,.68],[-2.23,.55],[-2.50,.76],[-2.48,.72],[-2.45,.79],[-2.43,.67],[-2.40,.75],[-2.39,.70],[-2.37,.81],[-2.34,.73],[-2.32,.68],[-2.30,.77],[-2.27,.62],[-2.26,.73],[-2.24,.86],[-2.51,.63],[-2.44,.60],[-2.33,.58],[-2.26,.52],[-2.42,.84],[-2.22,.64],
  [-2.19,.84],[-2.18,.79],[-2.17,.87],[-2.16,.93],[-2.16,.74],[-2.15,.81],[-2.14,.76],[-2.13,.70],[-2.12,.85],[-2.11,.78],[-2.19,.71],[-2.17,.66],[-2.15,.68],[-2.13,.63],[-2.11,.73],[-2.18,.59],[-2.14,.56],[-2.12,.60],[-2.17,.42],[-2.17,.37],[-2.15,.52],[-2.11,.48],[-2.19,.89],[-2.13,.82],
  [-2.09,.86],[-2.08,.81],[-2.07,.76],[-2.06,.89],[-2.05,.73],[-2.04,.83],[-2.03,.79],[-2.02,.70],[-2.01,.86],[-2.09,.68],[-2.07,.72],[-2.05,.65],[-2.03,.67],[-2.01,.62],[-2.08,.58],[-2.06,.55],[-2.04,.60],[-2.09,.18],[-2.08,.14],[-2.06,.40],[-2.05,.41],[-2.07,.14],[-2.07,.27],[-2.07,.40],[-2.07,.45],[-2.07,.52],[-2.00,.36],[-2.00,.33],[-2.02,.77],
  [-1.99,.85],[-1.98,.80],[-1.97,.88],[-1.96,.75],[-1.95,.82],[-1.94,.78],[-1.93,.86],[-1.92,.71],[-1.91,.83],[-1.99,.70],[-1.97,.67],[-1.95,.73],[-1.93,.64],[-1.91,.68],[-1.98,.61],[-1.96,.58],[-1.94,.63],[-1.92,.92],[-1.99,.36],[-1.98,.33],[-1.93,.28],[-1.90,.40],[-1.93,.48],[-1.93,.47],[-1.93,.53],[-1.95,.56],[-1.90,.77],
  [-1.89,.84],[-1.88,.79],[-1.87,.87],[-1.86,.74],[-1.85,.81],[-1.84,.89],[-1.83,.76],[-1.82,.83],[-1.81,.71],[-1.89,.69],[-1.87,.65],[-1.85,.70],[-1.83,.62],[-1.81,.77],[-1.88,.58],[-1.86,.61],[-1.84,.55],[-1.82,.67],[-1.85,.23],[-1.81,.50],[-1.81,.46],[-1.80,.42],[-1.87,.91],[-1.80,.80],
  [-1.79,.86],[-1.78,.81],[-1.77,.76],[-1.76,.89],[-1.75,.73],[-1.74,.84],[-1.73,.79],[-1.72,.70],[-1.71,.87],[-1.79,.67],[-1.77,.71],[-1.75,.64],[-1.73,.68],[-1.71,.75],[-1.78,.60],[-1.76,.56],[-1.74,.62],[-1.72,.93],[-1.76,.47],[-1.74,.45],[-1.73,.45],[-1.74,.43],[-1.71,.31],[-1.71,.29],[-1.72,.25],[-1.70,.23],[-1.72,.58],[-1.70,.81],
  [-1.69,.85],[-1.68,.80],[-1.67,.88],[-1.66,.75],[-1.65,.82],[-1.64,.78],[-1.63,.90],[-1.62,.72],[-1.61,.84],[-1.69,.70],[-1.67,.66],[-1.65,.69],[-1.63,.63],[-1.61,.74],[-1.68,.59],[-1.66,.62],[-1.64,.57],[-1.62,.67],[-1.65,.22],[-1.63,.17],[-1.61,.53],[-1.60,.35],[-1.66,.52],[-1.60,.79],[-1.68,.94],
  [-1.59,.86],[-1.58,.81],[-1.57,.75],[-1.56,.88],[-1.55,.78],[-1.54,.84],[-1.53,.71],[-1.52,.87],[-1.51,.79],[-1.59,.69],[-1.57,.66],[-1.55,.72],[-1.53,.64],[-1.51,.68],[-1.58,.61],[-1.56,.57],[-1.54,.60],[-1.52,.93],[-1.58,.28],[-1.57,.44],[-1.52,.44],[-1.50,.48],[-1.55,.54],[-1.50,.75],[-1.59,.91],
  [-1.49,.85],[-1.48,.80],[-1.47,.88],[-1.46,.74],[-1.45,.82],[-1.44,.77],[-1.43,.91],[-1.42,.71],[-1.41,.85],[-1.49,.69],[-1.47,.65],[-1.45,.68],[-1.43,.62],[-1.41,.76],[-1.48,.58],[-1.46,.61],[-1.44,.55],[-1.42,.80],[-1.40,.35],[-1.46,.50],[-1.43,.47],[-1.40,.66],[-1.47,.94],
  [-1.39,.84],[-1.38,.79],[-1.37,.87],[-1.36,.73],[-1.35,.81],[-1.34,.89],[-1.33,.76],[-1.32,.83],[-1.31,.70],[-1.39,.68],[-1.37,.64],[-1.35,.67],[-1.33,.61],[-1.31,.75],[-1.38,.57],[-1.36,.60],[-1.34,.53],[-1.32,.90],[-1.35,.40],[-1.33,.25],[-1.36,.48],[-1.30,.85],[-1.30,.63],[-1.37,.93],
  [-1.29,.86],[-1.28,.81],[-1.27,.76],[-1.26,.89],[-1.25,.73],[-1.24,.84],[-1.23,.79],[-1.22,.70],[-1.21,.87],[-1.29,.67],[-1.27,.71],[-1.25,.64],[-1.23,.66],[-1.21,.61],[-1.28,.59],[-1.26,.56],[-1.24,.62],[-1.29,.37],[-1.28,.37],[-1.25,.50],[-1.22,.47],[-1.27,.53],[-1.20,.77],[-1.26,.95],[-1.22,.92],
  [-1.19,.85],[-1.18,.80],[-1.17,.88],[-1.16,.75],[-1.15,.82],[-1.14,.78],[-1.13,.91],[-1.12,.71],[-1.11,.85],[-1.19,.54],[-1.18,.51],[-1.19,.69],[-1.17,.65],[-1.15,.68],[-1.13,.63],[-1.11,.74],[-1.16,.58],[-1.14,.37],[-1.15,.38],[-1.12,.60],[-1.10,.80],[-1.16,.94],
  [-1.08,.96],[-1.09,.86],[-1.08,.81],[-1.07,.77],[-1.06,.89],[-1.05,.73],[-1.04,.84],[-1.03,.79],[-1.02,.70],[-1.01,.87],[-1.09,.68],[-1.07,.64],[-1.05,.67],[-1.03,.62],[-1.01,.74],[-1.08,.51],[-1.07,.45],[-1.05,.40],[-1.05,.14],[-1.02,.57],[-1.06,.59],[-1.00,.92],
  [-0.99,.85],[-0.98,.80],[-0.97,.75],[-0.96,.88],[-0.95,.72],[-0.94,.83],[-0.93,.78],[-0.92,.94],[-0.91,.69],[-0.99,.66],[-0.97,.57],[-0.95,.63],[-0.93,.69],[-0.92,.42],[-0.91,.40],[-0.92,.59],[-0.90,.86],[-0.96,.61],
  [-0.89,.84],[-0.88,.79],[-0.87,.88],[-0.86,.74],[-0.85,.82],[-0.84,.77],[-0.83,.86],[-0.82,.71],[-0.81,.83],[-0.80,.92],[-0.80,.53],[-0.87,.60],[-0.81,.60],[-0.87,.67],[-0.84,.65],[-0.85,.70],
  [-0.78,.72],[-0.77,.76],[-0.75,.46],[-0.74,.84],[-0.73,.50],[-0.72,.65],[-0.70,.80],[-0.68,.17],[-0.66,.95],[-0.65,.92],[-0.63,.78],[-0.62,.84],[-0.60,.53],[-0.60,.87],[-0.58,.55],[-0.58,.68],[-0.57,.67],[-0.57,.94],[-0.55,.80],[-0.53,.74],[-0.51,.77],[-0.51,.42],[-0.50,.86],[-0.47,.43],[-0.45,.43],[-0.47,.90],[-0.44,.83],[-0.43,.70],[-0.42,.65],[-0.40,.58],[-0.40,.76],[-0.37,.86],[-0.37,.84],[-0.36,.68],[0.00,.86],[0.04,.92],[-0.76,.69],[-0.69,.74],[-0.63,.71],[-0.55,.89],[-0.48,.74],[-0.79,.88],[-0.71,.88],
  [-2.28,.79],[-2.25,.70],[-2.22,.83],[-2.20,.74],[-2.18,.88],[-2.16,.79],[-2.14,.69],[-2.12,.78],[-2.10,.83],[-2.09,.74],[-2.07,.80],[-2.05,.85],[-2.04,.76],[-2.02,.82],[-2.00,.72],[-1.99,.78],[-1.97,.84],[-1.96,.69],[-1.94,.81],[-1.92,.76],[-1.91,.88],[-1.89,.80],[-1.88,.73],[-1.86,.85],[-1.85,.77],[-1.83,.82],[-1.82,.74],[-1.80,.87],[-1.79,.79],[-1.77,.83],[-1.76,.72],[-1.74,.80],[-1.73,.86],[-1.71,.77],[-1.70,.83],[-1.68,.73],[-1.67,.81],[-1.65,.87],[-1.64,.75],[-1.62,.80],[-1.61,.90],[-1.59,.78],[-1.58,.73],[-1.56,.83],[-1.55,.76],[-1.53,.81],[-1.52,.89],[-1.50,.79],[-1.49,.74],[-1.47,.83],[-1.46,.78],[-1.44,.86],[-1.43,.80],[-1.41,.73],[-1.40,.82],[-1.38,.88],[-1.37,.76],[-1.35,.84],[-1.34,.79],[-1.32,.74],[-1.31,.87],[-1.29,.81],[-1.28,.75],[-1.26,.84],[-1.25,.78],[-1.23,.88],[-1.22,.80],[-1.20,.72],[-1.19,.82],[-1.17,.77],[-1.16,.86],[-1.14,.81],[-1.13,.75],[-1.11,.83],[-1.10,.88],[-1.08,.78],[-1.07,.84],[-1.05,.80],[-1.04,.76],[-1.02,.85],[-1.01,.81],[-0.99,.78],[-0.98,.87],[-0.96,.80],[-0.95,.76],[-0.93,.84],[-0.91,.80],[-0.89,.88],[-0.88,.75],[-0.86,.81],[-0.84,.86],[-0.82,.79],
  [-2.27,.66],[-2.21,.60],[-2.15,.63],[-2.10,.57],[-2.03,.64],[-1.98,.66],[-1.94,.59],[-1.90,.65],[-1.84,.68],[-1.78,.65],[-1.73,.61],[-1.69,.66],[-1.63,.69],[-1.57,.63],[-1.52,.66],[-1.48,.62],[-1.42,.67],[-1.38,.63],[-1.33,.69],[-1.27,.65],[-1.21,.67],[-1.17,.61],[-1.12,.67],[-1.06,.64],[-1.00,.66],[-0.94,.65],[-0.89,.70],[-0.83,.67],
  [-2.24,.56],[-2.06,.51],[-1.97,.50],[-1.85,.55],[-1.70,.51],[-1.60,.56],[-1.45,.58],[-1.39,.52],[-1.30,.56],[-1.20,.59],[-1.09,.55],[-1.03,.52],[-0.97,.53]
];

// fitted lines, endpoints as [log10(x), y]
const fitPagerankRaw = [[-2.554,.563],[-0.492,.799]];
const fitPagerankDelayed = [[-2.554,.610],[-0.492,.795]];
const fitVolumeRaw = [[-3.703,.578],[0.099,.787]];
const fitVolumeDelayed = [[-3.703,.620],[0.099,.786]];

// axis limits, log10 for x
const pagerankRange = [-2.653, -0.406];
const volumeRange = [-3.885, 0.281];
const rawRange = [-0.027, 1.009];
const delayedRange = [0.085, 1.006];
const rawTicks = [0, 0.2, 0.4, 0.6, 0.8, 1.0];
const delayedTicks = [0.2, 0.4, 0.6, 0.8, 1.0];

Chart.defaults.font.family = '"DejaVu Sans", sans-serif';
Chart.defaults.color = '#000';

const SUP = {'-': '\u207B', '0': '\u2070', '1': '\u00B9', '2': '\u00B2', '3': '\u00B3'};
function isPow10(v) {
  const e = Math.round(Math.log10(v));
  return Math.abs(v / Math.pow(10, e) - 1) < 1e-6;
}
function powLabel(v) {
  if (!isPow10(v)) return '';
  const e = Math.round(Math.log10(v));
  return '10' + String(e).split('').map(c => SUP[c]).join('');
}
function logTicks(min, max) {
  const out = [];
  for (let k = Math.floor(Math.log10(min)); k <= Math.ceil(Math.log10(max)); k++) {
    for (let m = 1; m <= 9; m++) {
      const v = m * Math.pow(10, k);
      if (v >= min && v <= max) out.push(v);
    }
  }
  return out;
}

const framePlugin = {
  id: 'frame',
  afterDraw(chart, args, opts) {
    const {ctx, chartArea: a, scales} = chart;
    ctx.save();
    ctx.strokeStyle = '#000';
    scales.x.ticks.forEach(t => {
      const px = scales.x.getPixelForValue(t.value);
      const major = isPow10(t.value);
      ctx.lineWidth = major ? 1.1 : 0.8;
      ctx.beginPath();
      ctx.moveTo(px, a.bottom);
      ctx.lineTo(px, a.bottom + (major ? 4.9 : 2.8));
      ctx.stroke();
    });
    ctx.lineWidth = 1.1;
    scales.y.ticks.forEach(t => {
      const py = scales.y.getPixelForValue(t.value);
      ctx.beginPath();
      ctx.moveTo(a.left, py);
      ctx.lineTo(a.left - 4.9, py);
      ctx.stroke();
    });
    ctx.strokeRect(a.left, a.top, a.right - a.left, a.bottom - a.top);
    ctx.fillStyle = '#000';
    ctx.font = '19.5px "DejaVu Sans"';
    ctx.textBaseline = 'alphabetic';
    ctx.fillText(opts.rText, a.left + opts.rDx, a.bottom - opts.rDy);
    ctx.fillText(opts.letter, opts.letterX, opts.letterY);
    ctx.restore();
  }
};

function makePanel(id, points, fit, xRange, yRange, yTicks, xTitle, yTitle, box) {
  const xMin = Math.pow(10, xRange[0]), xMax = Math.pow(10, xRange[1]);
  const toXY = ([lx, y]) => ({x: Math.pow(10, lx), y: y});
  return new Chart(document.getElementById(id), {
    type: 'scatter',
    data: {
      datasets: [
        {
          type: 'line',
          data: fit.map(toXY),
          borderColor: '#ff0000',
          borderWidth: 3,
          pointRadius: 0,
          showLine: true,
          fill: false
        },
        {
          data: points.map(toXY),
          backgroundColor: '#6495ED',
          borderWidth: 0,
          pointRadius: 2.5
        }
      ]
    },
    options: {
      responsive: false,
      animation: false,
      layout: {padding: {top: box.padTop, right: box.padRight, left: 0, bottom: 0}},
      plugins: {
        legend: {display: false},
        tooltip: {enabled: false},
        frame: box.frame
      },
      scales: {
        x: {
          type: 'logarithmic',
          min: xMin,
          max: xMax,
          grid: {display: false, drawTicks: false},
          border: {display: false},
          afterBuildTicks: s => { s.ticks = logTicks(xMin, xMax).map(v => ({value: v})); },
          afterFit: s => { s.height = box.xH; },
          ticks: {
            autoSkip: false,
            maxRotation: 0,
            padding: 15,
            font: {size: 17.5},
            callback: v => powLabel(v)
          },
          title: {display: true, text: xTitle, font: {size: 19.5}, padding: {top: 0, bottom: box.xTitlePad}}
        },
        y: {
          type: 'linear',
          min: yRange[0],
          max: yRange[1],
          grid: {display: false, drawTicks: false},
          border: {display: false},
          afterBuildTicks: s => { s.ticks = yTicks.map(v => ({value: v})); },
          afterFit: s => { s.width = box.yW; },
          ticks: {
            padding: 19,
            font: {size: 17.5},
            callback: v => v.toFixed(1)
          },
          title: {display: true, text: yTitle, font: {size: 19.5}, padding: {top: box.yTitlePad, bottom: 0}}
        }
      }
    },
    plugins: [framePlugin]
  });
}

makePanel('chartA', pagerankRaw, fitPagerankRaw, pagerankRange, rawRange, rawTicks,
  'Personalized PageRank', 'Raw correlation',
  {padTop: 29, padRight: 5, xH: 70, yW: 88, xTitlePad: 7, yTitlePad: 13,
   frame: {rText: 'r = 0.28', rDx: 35, rDy: 20, letter: '(a)', letterX: 7, letterY: 17}});
makePanel('chartC', volumeRaw, fitVolumeRaw, volumeRange, rawRange, rawTicks,
  'Normalized trade volume', 'Raw correlation',
  {padTop: 29, padRight: 7, xH: 70, yW: 84, xTitlePad: 7, yTitlePad: 9,
   frame: {rText: 'r = 0.26', rDx: 37, rDy: 20, letter: '(c)', letterX: 19, letterY: 17}});
makePanel('chartB', pagerankDelayed, fitPagerankDelayed, pagerankRange, delayedRange, delayedTicks,
  'Personalized PageRank', 'Time delayed correlation',
  {padTop: 32, padRight: 5, xH: 66, yW: 88, xTitlePad: 3, yTitlePad: 12,
   frame: {rText: 'r = 0.25', rDx: 35, rDy: 19, letter: '(b)', letterX: 7, letterY: 15}});
makePanel('chartD', volumeDelayed, fitVolumeDelayed, volumeRange, delayedRange, delayedTicks,
  'Normalized trade volume', 'Time delayed correlation',
  {padTop: 32, padRight: 7, xH: 66, yW: 84, xTitlePad: 3, yTitlePad: 8,
   frame: {rText: 'r = 0.23', rDx: 37, rDy: 19, letter: '(d)', letterX: 19, letterY: 15}});
</script>
</body>
</html>
